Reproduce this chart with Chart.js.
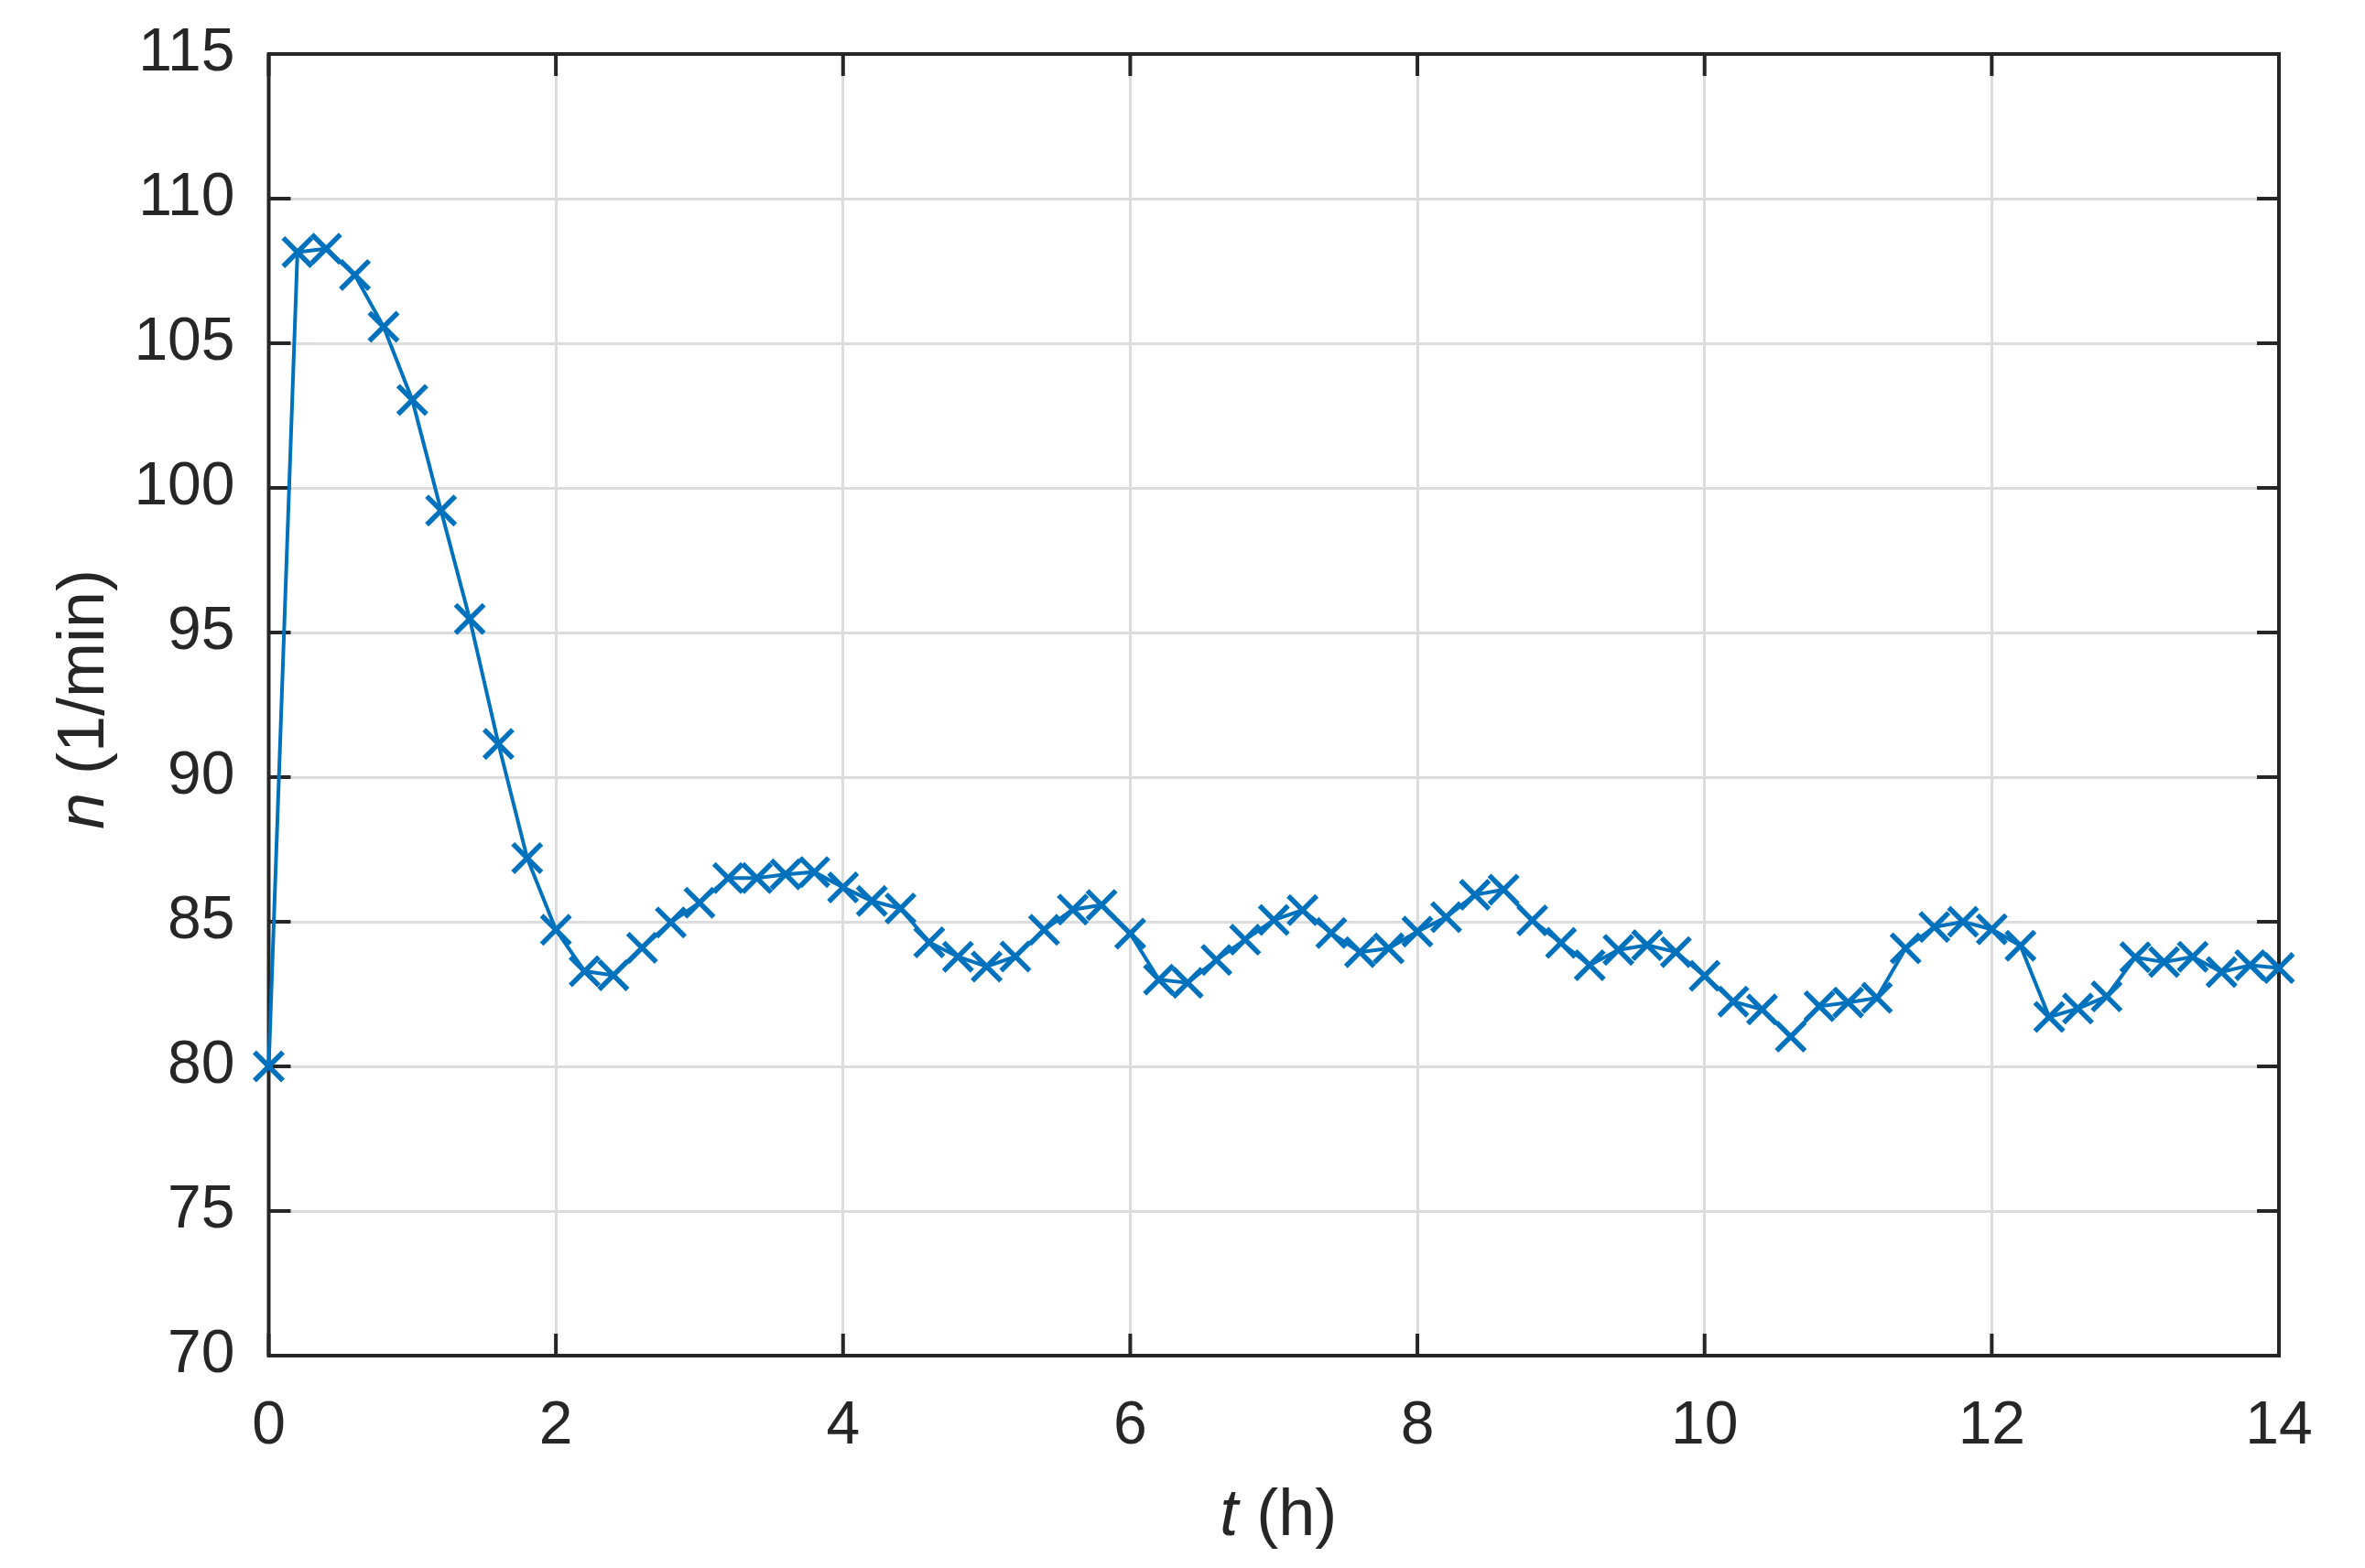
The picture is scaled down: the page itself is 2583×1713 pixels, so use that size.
<!DOCTYPE html>
<html>
<head>
<meta charset="utf-8">
<script src="https://cdn.jsdelivr.net/npm/chart.js@4.4.1/dist/chart.umd.min.js"></script>
<style>
  html, body { margin: 0; padding: 0; background: #ffffff; }
  #wrap { width: 2583px; height: 1713px; }
</style>
</head>
<body>
<div id="wrap"><canvas id="speedChart" width="2583" height="1713"></canvas></div>
<script>
// time (h) and rotational speed n (1/min)
const timeHours = [
  0, 0.2, 0.4, 0.6, 0.8, 1.0, 1.2, 1.4, 1.6, 1.8,
  2.0, 2.2, 2.4, 2.6, 2.8, 3.0, 3.2, 3.4, 3.6, 3.8,
  4.0, 4.2, 4.4, 4.6, 4.8, 5.0, 5.2, 5.4, 5.6, 5.8,
  6.0, 6.2, 6.4, 6.6, 6.8, 7.0, 7.2, 7.4, 7.6, 7.8,
  8.0, 8.2, 8.4, 8.6, 8.8, 9.0, 9.2, 9.4, 9.6, 9.8,
  10.0, 10.2, 10.4, 10.6, 10.8, 11.0, 11.2, 11.4, 11.6, 11.8,
  12.0, 12.2, 12.4, 12.6, 12.8, 13.0, 13.2, 13.4, 13.6, 13.8,
  14.0,
];
const speedValues = [
  80.0, 108.15, 108.27, 107.36, 105.57, 103.04, 99.22, 95.47, 91.15, 87.2,
  84.72, 83.29, 83.15, 84.1, 84.98, 85.66, 86.51, 86.51, 86.64, 86.72,
  86.19, 85.72, 85.46, 84.29, 83.79, 83.45, 83.8, 84.72, 85.42, 85.58,
  84.59, 83.0, 82.89, 83.68, 84.38, 85.06, 85.4, 84.61, 83.95, 84.08,
  84.66, 85.16, 85.93, 86.11, 85.05, 84.27, 83.5, 84.03, 84.19, 83.95,
  83.13, 82.24, 81.97, 81.03, 82.08, 82.21, 82.37, 84.08, 84.82, 85.0,
  84.74, 84.17, 81.71, 82.0, 82.42, 83.77, 83.61, 83.79, 83.26, 83.5,
  83.4,
];
const xTickValues = [0, 2, 4, 6, 8, 10, 12, 14];
const yTickValues = [70, 75, 80, 85, 90, 95, 100, 105, 110, 115];

const lineColor = '#0072BD';
const axisColor = '#262626';
const gridColor = '#dcdcdc';
const fontFamily = '"Liberation Sans", Arial, sans-serif';
const tickLen = 24;

function drawMixed(ctx, parts, cx, baseline, size) {
  // parts: [text, italic]
  let total = 0;
  const widths = parts.map(([txt, it]) => {
    ctx.font = `${it ? 'italic ' : ''}${size}px ${fontFamily}`;
    const w = ctx.measureText(txt).width;
    total += w;
    return w;
  });
  let x = cx - total / 2;
  ctx.textAlign = 'left';
  parts.forEach(([txt, it], i) => {
    ctx.font = `${it ? 'italic ' : ''}${size}px ${fontFamily}`;
    ctx.fillText(txt, x, baseline);
    x += widths[i];
  });
}

const axesFrame = {
  id: 'axesFrame',
  beforeDatasetsDraw(chart) {
    const { ctx, chartArea: a, scales: { x, y } } = chart;
    ctx.save();
    ctx.strokeStyle = axisColor;
    ctx.lineWidth = 4;
    ctx.beginPath();
    x.ticks.forEach((t) => {
      const px = x.getPixelForValue(t.value);
      ctx.moveTo(px, a.bottom);
      ctx.lineTo(px, a.bottom - tickLen);
      ctx.moveTo(px, a.top);
      ctx.lineTo(px, a.top + tickLen);
    });
    y.ticks.forEach((t) => {
      const py = y.getPixelForValue(t.value);
      ctx.moveTo(a.left, py);
      ctx.lineTo(a.left + tickLen, py);
      ctx.moveTo(a.right, py);
      ctx.lineTo(a.right - tickLen, py);
    });
    ctx.stroke();
    ctx.strokeRect(a.left, a.top, a.right - a.left, a.bottom - a.top);
    ctx.restore();
  },
  afterDraw(chart) {
    const { ctx, chartArea: a } = chart;
    ctx.save();
    ctx.fillStyle = axisColor;
    ctx.textBaseline = 'alphabetic';
    drawMixed(ctx, [['t', true], [' (h)', false]], (a.left + a.right) / 2 + 5, a.bottom + 196, 72);
    ctx.translate(a.left - 181, (a.top + a.bottom) / 2 - 6);
    ctx.rotate(-Math.PI / 2);
    drawMixed(ctx, [['n', true], [' (1/min)', false]], 0, 0, 72);
    ctx.restore();
  },
};

new Chart(document.getElementById('speedChart').getContext('2d'), {
  type: 'line',
  data: {
    datasets: [{
      data: timeHours.map((t, i) => ({ x: t, y: speedValues[i] })),
      borderColor: lineColor,
      borderWidth: 4,
      fill: false,
      tension: 0,
      pointStyle: 'crossRot',
      pointRadius: 22,
      pointBorderWidth: 5.5,
      pointBorderColor: lineColor,
      pointBackgroundColor: 'transparent',
      clip: false,
    }],
  },
  options: {
    responsive: false,
    animation: false,
    events: [],
    layout: { padding: { left: 0, top: 59, right: 94, bottom: 0 } },
    plugins: { legend: { display: false }, tooltip: { enabled: false } },
    scales: {
      x: {
        type: 'linear',
        min: 0,
        max: 14,
        afterBuildTicks(scale) { scale.ticks = xTickValues.map((v) => ({ value: v })); },
        afterFit(scale) {
          scale.height = 232;
          scale.paddingLeft = 0;
          scale.paddingRight = 0;
        },
        grid: { color: gridColor, lineWidth: 3, drawTicks: false },
        border: { display: false },
        ticks: {
          color: axisColor,
          padding: 38,
          maxRotation: 0,
          font: { family: fontFamily, size: 66 },
        },
      },
      y: {
        min: 70,
        max: 115,
        afterBuildTicks(scale) { scale.ticks = yTickValues.map((v) => ({ value: v })); },
        afterFit(scale) {
          scale.width = 293.5;
          scale.paddingTop = 0;
          scale.paddingBottom = 0;
        },
        grid: { color: gridColor, lineWidth: 3, drawTicks: false },
        border: { display: false },
        ticks: {
          color: axisColor,
          padding: 37,
          font: { family: fontFamily, size: 66 },
        },
      },
    },
  },
  plugins: [axesFrame],
});
</script>
</body>
</html>
